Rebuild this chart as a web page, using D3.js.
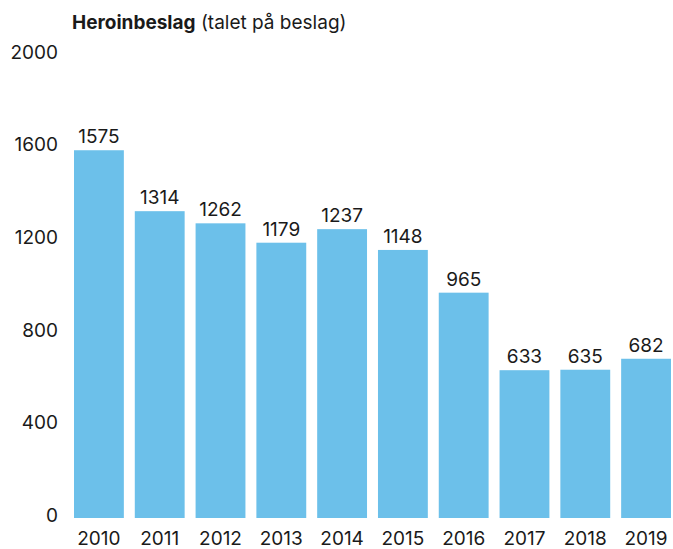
<!DOCTYPE html>
<html>
<head>
<meta charset="utf-8">
<script src="https://cdn.jsdelivr.net/npm/d3@7"></script>
<style>
  body { margin: 0; background: #fff; }
  text { font-family: Inter, sans-serif; fill: #1a1a1a; }
</style>
</head>
<body>
<svg id="chart" width="673" height="549"></svg>
<script>
// data
var years = ['2010', '2011', '2012', '2013', '2014', '2015', '2016', '2017', '2018', '2019'];
var seizures = [1575, 1314, 1262, 1179, 1237, 1148, 965, 633, 635, 682];
var yTicks = [0, 400, 800, 1200, 1600, 2000];

var svg = d3.select('#chart');

var x = d3.scaleBand()
  .domain(years)
  .range([74, 671])
  .paddingInner(0.18)
  .paddingOuter(0);

var y = d3.scaleLinear()
  .domain([0, 2000])
  .range([518, 51]);

// label positions on the left axis sit a bit lower than the scale
var yLab = d3.scaleLinear()
  .domain([0, 2000])
  .range([515, 52]);

// title
var title = svg.append('text')
  .attr('x', 72)
  .attr('y', 29)
  .style('font-size', '19px');
title.append('tspan').style('font-weight', 'bold').text('Heroinbeslag');
title.append('tspan').text(' (talet på beslag)');

// y axis labels
svg.selectAll('.ytick')
  .data(yTicks)
  .enter().append('text')
  .attr('class', 'ytick')
  .attr('x', 58)
  .attr('y', function(d) { return yLab(d); })
  .attr('dy', '0.36em')
  .attr('text-anchor', 'end')
  .style('font-size', '19px')
  .text(function(d) { return d; });

// bars
svg.selectAll('.bar')
  .data(seizures)
  .enter().append('rect')
  .attr('class', 'bar')
  .attr('x', function(d, i) { return x(years[i]); })
  .attr('y', function(d) { return y(d); })
  .attr('width', x.bandwidth())
  .attr('height', function(d) { return y(0) - y(d); })
  .style('fill', '#6cc0ea');

// value labels
svg.selectAll('.val')
  .data(seizures)
  .enter().append('text')
  .attr('class', 'val')
  .attr('x', function(d, i) { return x(years[i]) + x.bandwidth() / 2; })
  .attr('y', function(d) { return y(d) - 7; })
  .attr('text-anchor', 'middle')
  .style('font-size', '19px')
  .text(function(d) { return d; });

// x labels
svg.selectAll('.xlab')
  .data(years)
  .enter().append('text')
  .attr('class', 'xlab')
  .attr('x', function(d) { return x(d) + x.bandwidth() / 2; })
  .attr('y', 545)
  .attr('text-anchor', 'middle')
  .style('font-size', '19px')
  .text(function(d) { return d; });
</script>
</body>
</html>
